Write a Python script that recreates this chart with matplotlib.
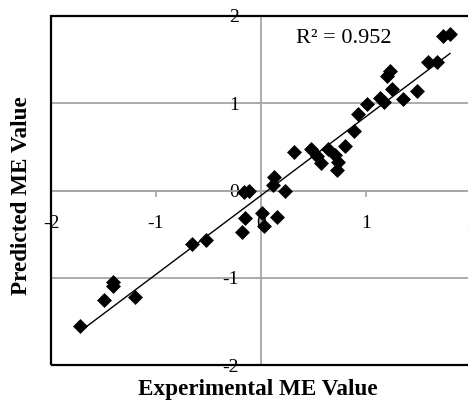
import matplotlib
matplotlib.use("Agg")
import matplotlib.pyplot as plt
from matplotlib.patches import Rectangle
import numpy as np

# experimental vs predicted ME values
experimental = [-1.72, -1.50, -1.41, -1.41, -1.20, -0.66, -0.52, -0.18, -0.15, -0.16,
                -0.11, 0.01, 0.03, 0.15, 0.12, 0.11, 0.23, 0.31, 0.48, 0.53,
                0.57, 0.64, 0.70, 0.73, 0.72, 0.80, 0.89, 0.92, 1.01, 1.13,
                1.17, 1.25, 1.20, 1.23, 1.35, 1.49, 1.59, 1.68, 1.73, 1.80]
predicted = [-1.55, -1.26, -1.05, -1.10, -1.22, -0.61, -0.57, -0.48, -0.31, -0.02,
             -0.01, -0.26, -0.41, -0.30, 0.15, 0.06, -0.01, 0.44, 0.47, 0.39,
             0.32, 0.47, 0.41, 0.33, 0.23, 0.51, 0.68, 0.88, 0.99, 1.06,
             1.02, 1.16, 1.31, 1.37, 1.05, 1.14, 1.47, 1.47, 1.77, 1.79]
ticks = [-2, -1, 0, 1, 2]
r2_label = "R² = 0.952"

plt.rcParams['font.family'] = ['Liberation Serif', 'DejaVu Serif']

W, H = 468, 401
fig = plt.figure(figsize=(W / 100, H / 100), dpi=100)
left, right, top, bottom = 51, 471, 16, 365
ax = fig.add_axes([left / W, 1 - bottom / H, (right - left) / W, (bottom - top) / H])

x = np.array(experimental)
y = np.array(predicted)
slope, intercept = np.polyfit(x, y, 1)
xs = np.array([x.min(), x.max()])

ax.scatter(x, y, marker='D', s=58, color='black', zorder=3, linewidths=0)
ax.plot(xs, slope * xs + intercept, color='black', lw=1.0, zorder=4)

ax.set_xlim(-2, 2)
ax.set_ylim(-2, 2)
ax.set_xticks(ticks)
ax.set_yticks(ticks)
ax.set_xticklabels([str(t) for t in ticks])
ax.set_yticklabels([str(t) for t in ticks])

gray = '#a6a6a6'
ax.yaxis.grid(True, color=gray, lw=1.3, zorder=0)
ax.set_axisbelow(True)

for side in ['top', 'right']:
    ax.spines[side].set_visible(False)
ax.spines['left'].set_position(('data', 0))
ax.spines['bottom'].set_position(('data', 0))
ax.spines['left'].set_color(gray)
ax.spines['bottom'].set_color(gray)
ax.spines['left'].set_linewidth(1.3)
ax.spines['bottom'].set_linewidth(1.3)

ax.tick_params(axis='x', direction='out', length=4, width=1.2, color=gray,
               pad=14, labelsize=14)
ax.tick_params(axis='y', direction='out', length=4, width=1.2, color=gray,
               pad=12, labelsize=14)

ax.add_patch(Rectangle((0, 0), 1, 1, transform=ax.transAxes, fill=False,
                       ec='black', lw=1.6, clip_on=False, zorder=5))

ax.text(0.33, 1.74, r2_label, fontsize=16, ha='left', va='center')

ax.set_xlabel('Experimental ME Value', fontsize=16.7, fontweight='bold')
ax.set_ylabel('Predicted ME Value', fontsize=16.7, fontweight='bold')
ax.xaxis.set_label_coords((258 - left) / (right - left), (bottom - 390) / (bottom - top))
ax.yaxis.set_label_coords((22 - left) / (right - left), (bottom - 196) / (bottom - top))
ax.xaxis.label.set_verticalalignment('center')
ax.yaxis.label.set_verticalalignment('center')

fig.savefig('out.png', dpi=100)
